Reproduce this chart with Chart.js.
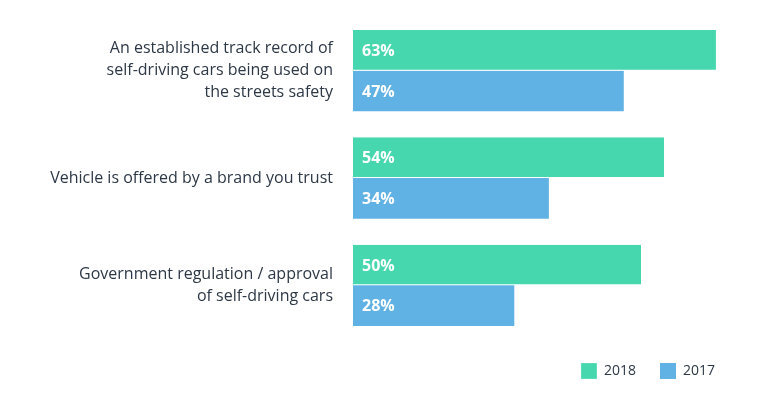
<!DOCTYPE html>
<html>
<head>
<meta charset="utf-8">
<script src="https://cdn.jsdelivr.net/npm/chart.js@4"></script>
<style>
  html, body { margin: 0; padding: 0; background: #fff; }
  #wrap { width: 770px; height: 397px; position: relative; }
</style>
</head>
<body>
<div id="wrap"><canvas id="chart"></canvas></div>
<script>
const categories = [
    ['An established track record of', 'self-driving cars being used on', 'the streets safety'],
    'Vehicle is offered by a brand you trust',
    ['Government regulation / approval', 'of self-driving cars']
];
const seriesNames = ['2018', '2017'];
const values2018 = [63, 54, 50];
const values2017 = [47, 34, 28];

const textColor = '#2d3846';

// white percentage labels drawn just inside the bar start
const barLabels = {
    id: 'barLabels',
    afterDatasetsDraw(chart) {
        const ctx = chart.ctx;
        ctx.save();
        ctx.font = 'bold 16px "Open Sans"';
        ctx.fillStyle = '#fff';
        ctx.textBaseline = 'middle';
        ctx.textAlign = 'left';
        chart.data.datasets.forEach((ds, i) => {
            chart.getDatasetMeta(i).data.forEach((bar, j) => {
                ctx.fillText(ds.data[j] + '%', bar.base + 9, bar.y + 1);
            });
        });
        ctx.restore();
    }
};

new Chart(document.getElementById('chart'), {
    type: 'bar',
    data: {
        labels: categories,
        datasets: [{
            label: seriesNames[0],
            data: values2018,
            backgroundColor: '#46d7ae',
            borderColor: '#fff',
            borderWidth: { bottom: 1 },
            borderSkipped: false
        }, {
            label: seriesNames[1],
            data: values2017,
            backgroundColor: '#60b1e4'
        }]
    },
    options: {
        indexAxis: 'y',
        responsive: true,
        maintainAspectRatio: false,
        animation: false,
        datasets: {
            bar: { barPercentage: 1, categoryPercentage: 0.757 }
        },
        layout: { padding: { left: 0, right: 31, top: 17, bottom: 8 } },
        scales: {
            x: {
                display: false,
                min: 0,
                max: 67
            },
            y: {
                grid: { display: false, drawTicks: false },
                border: { display: false },
                ticks: {
                    color: textColor,
                    font: { family: 'Open Sans', size: 16, lineHeight: 1.375 },
                    padding: 20
                },
                afterFit: scale => {
                    scale.width = 353;
                    scale.paddingTop = 0;
                    scale.paddingBottom = 0;
                }
            }
        },
        plugins: {
            legend: {
                position: 'bottom',
                align: 'end',
                labels: {
                    boxWidth: 16,
                    boxHeight: 16,
                    padding: 24,
                    color: textColor,
                    font: { family: 'Open Sans', size: 14 }
                }
            },
            tooltip: { enabled: false }
        }
    },
    plugins: [barLabels]
});
</script>
</body>
</html>
